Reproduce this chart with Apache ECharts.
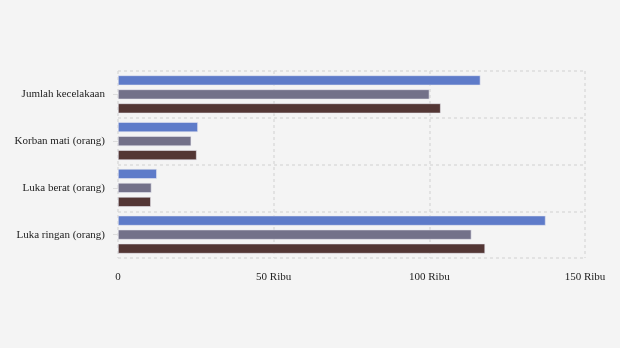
<!DOCTYPE html>
<html><head><meta charset="utf-8">
<script src="https://cdn.jsdelivr.net/npm/echarts@6/dist/echarts.min.js"></script>
<style>html,body{margin:0;padding:0;background:#f4f4f4}#c{width:620px;height:348px}</style>
</head><body><div id="c"></div>
<script>
const categories = ['Jumlah kecelakaan', 'Korban mati (orang)', 'Luka berat (orang)', 'Luka ringan (orang)'];
const series2019 = [116411, 25671, 12475, 137342];
const series2020 = [100028, 23529, 10751, 113518];
const series2021 = [103645, 25266, 10553, 117913];
const seriesNames = ['2019', '2020', '2021'];
const colors = ['#5e7bc9', '#737189', '#533634'];
const tickLabels = {0: '0', 50000: '50 Ribu', 100000: '100 Ribu', 150000: '150 Ribu'};

const font = '"Liberation Serif", "DejaVu Serif", serif';
const chart = echarts.init(document.getElementById('c'));
const dataSets = [series2019, series2020, series2021];
chart.setOption({
  backgroundColor: '#f4f4f4',
  animation: false,
  grid: {left: 118, right: 35, top: 71, bottom: 90},
  xAxis: {
    type: 'value', min: 0, max: 150000, interval: 50000,
    axisLine: {show: false}, axisTick: {show: false},
    axisLabel: {color: '#222', fontFamily: font, fontSize: 11, margin: 14,
      formatter: v => tickLabels[v] !== undefined ? tickLabels[v] : ''},
    splitLine: {show: true, lineStyle: {type: [3, 3], color: '#dcdcdc', width: 1.5}}
  },
  yAxis: {
    type: 'category', data: categories, inverse: true,
    axisLine: {show: false},
    axisTick: {show: true, alignWithLabel: true, length: 5, lineStyle: {color: '#dcdcdc'}},
    axisLabel: {color: '#222', fontFamily: font, fontSize: 11, margin: 13, padding: [3, 0, 0, 0]},
    splitLine: {show: true, lineStyle: {type: [3, 3], color: '#dcdcdc', width: 1.5}}
  },
  series: dataSets.map((d, i) => ({
    name: seriesNames[i], type: 'bar', data: d,
    barWidth: 10, barGap: '40%',
    itemStyle: {color: colors[i], borderColor: '#e8e8f0', borderWidth: 0.6}
  }))
});
</script></body></html>
